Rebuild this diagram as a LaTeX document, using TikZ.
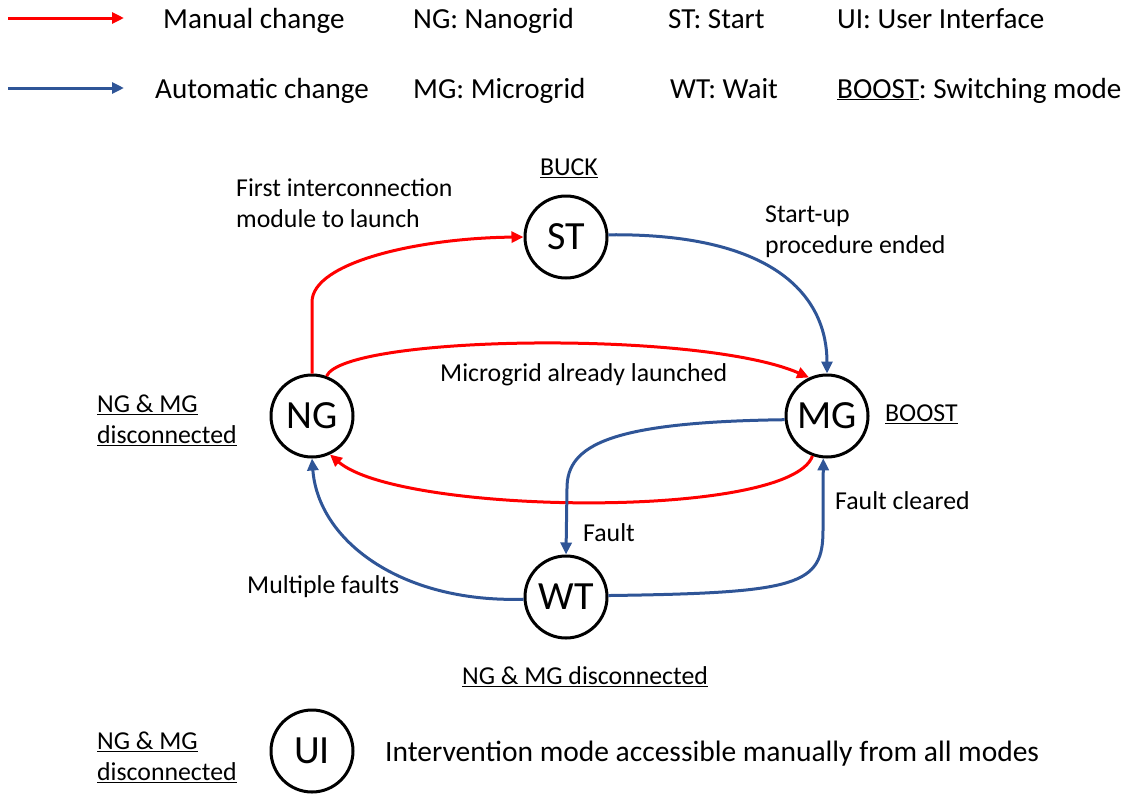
\documentclass[tikz,border=0pt]{standalone}
\usepackage{fontspec}
\setmainfont{Carlito}
\usetikzlibrary{arrows.meta}
\definecolor{mred}{RGB}{255,0,0}
\definecolor{ablue}{RGB}{47,85,151}
\frenchspacing
\begin{document}
\begin{tikzpicture}[x=1pt,y=-1pt,
  state/.style={circle,draw=black,line width=3pt,minimum size=82pt,inner sep=0pt,font=\fontsize{40}{40}\selectfont},
  man/.style={draw=mred,line width=3pt,-{Triangle[length=12pt,width=11pt]}},
  auto/.style={draw=ablue,line width=3pt,-{Triangle[length=12pt,width=11pt]}},
  leg/.style={anchor=base west,inner sep=0pt,font=\fontsize{29.1}{34}\selectfont},
  lab/.style={anchor=west,inner sep=0pt,align=left,font=\fontsize{25.8}{31}\selectfont},
]
\useasboundingbox (0,0) rectangle (1132,793);
% legend
\coordinate (lr1) at (8,18); \coordinate (lr2) at (124,18);
\coordinate (lb1) at (8,88); \coordinate (lb2) at (124,88);
\draw[man] (lr1) -- (lr2);
\draw[auto] (lb1) -- (lb2);
\node[leg] (l1) at (163,28) {Manual change};
\node[leg] (l2) at (155,98) {Automatic change};
\node[leg] (l3) at (413,28) {NG: Nanogrid};
\node[leg] (l4) at (413,98) {MG: Microgrid};
\node[leg] (l5) at (668,28) {ST: Start};
\node[leg] (l6) at (670,98) {WT: Wait};
\node[leg] (l7) at (837,28) {UI: User Interface};
\node[leg] (l8) at (837,98) {\underline{BOOST}: Switching mode};
% states
\node[state] (ST) at (566,237) {ST};
\node[state] (NG) at (312,416) {NG};
\node[state] (MG) at (827,416) {MG};
\node[state] (WT) at (566,597) {WT};
\node[state] (UI) at (312,751) {UI};
% labels
\node[lab,anchor=center] (buck) at (569,168) {\underline{BUCK}};
\node[lab] (first) at (236,203) {First interconnection\\module to launch};
\node[lab] (startup) at (765,232) {Start-up\\procedure ended};
\node[lab] (mal) at (440,375) {Microgrid already launched};
\node[lab] (ngl) at (97,420) {\underline{NG \& MG}\\\underline{disconnected}};
\node[lab] (boost) at (885,414) {\underline{BOOST}};
\node[lab] (fc) at (835,501) {Fault cleared};
\node[lab] (fault) at (583,533) {Fault};
\node[lab] (mf) at (247,587) {Multiple faults};
\node[lab,anchor=center] (wtl) at (585,677) {\underline{NG \& MG disconnected}};
\node[lab] (uil) at (97,757) {\underline{NG \& MG}\\\underline{disconnected}};
\node[leg,font=\fontsize{29.5}{34}\selectfont] (uit) at (385,761) {Intervention mode accessible manually from all modes};
% connectors
\draw[man] (NG.north) -- (312,302) .. controls (312,262) and (420,238) .. (ST.west);
\draw[man] (NG.70) .. controls (345,335) and (700,330) .. (MG.115);
\draw[man] (MG.250) .. controls (790,520) and (400,515) .. (NG.295);
\draw[auto] (ST.3) .. controls (780,233) and (827,300) .. (MG.north);
\draw[auto] (MG.185) .. controls (610,422) and (567,445) .. (567,488) -- (WT.north);
\draw[auto] (WT.2) .. controls (800,593) and (823,585) .. (823,530) -- (MG.265);
\draw[auto] (WT.183) .. controls (400,603) and (318,540) .. (NG.south);
\end{tikzpicture}
\end{document}
